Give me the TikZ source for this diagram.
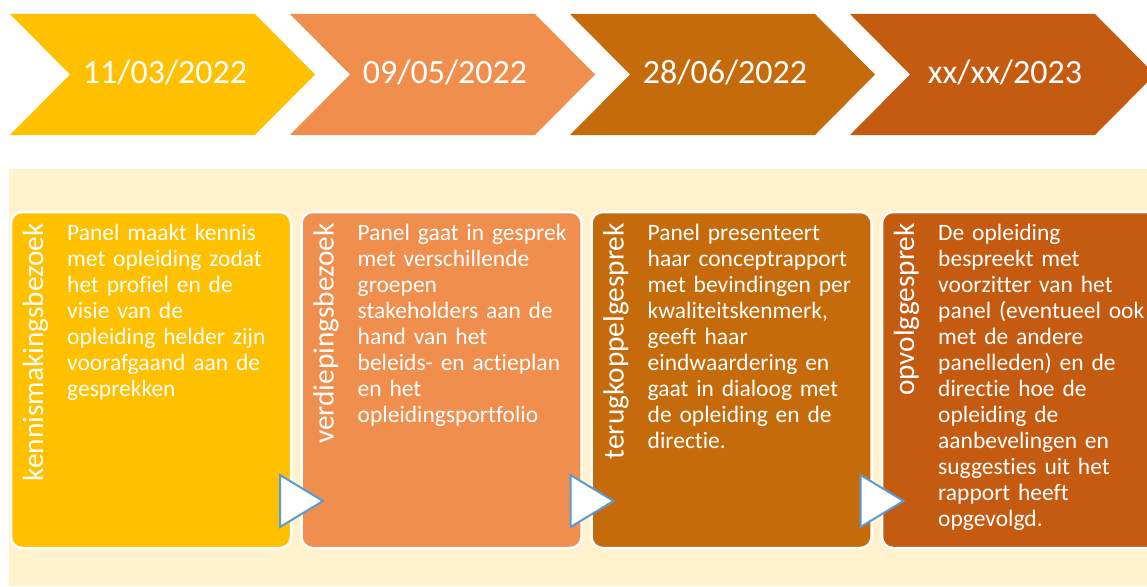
\documentclass[tikz,border=0pt]{standalone}
\usepackage{fontspec}
\setmainfont{Carlito}[Ligatures=NoCommon]
\definecolor{cgold}{HTML}{FFC000}
\definecolor{corange}{HTML}{EF8E4D}
\definecolor{cbrown}{HTML}{C56B0B}
\definecolor{cdark}{HTML}{C55A11}
\definecolor{ccream}{HTML}{FFF2CC}
\definecolor{cblue}{HTML}{5B9BD5}
\begin{document}
\begin{tikzpicture}[x=1pt,y=-1pt,
  datetext/.style={text=white,inner sep=0,anchor=base,font=\fontsize{34}{40}\selectfont},
  stagebox/.style={draw=white,line width=2.5pt,rounded corners=11pt,anchor=north west,
    minimum width=280pt,minimum height=336pt,inner sep=0,outer sep=0},
  stagelabel/.style={text=white,rotate=90,anchor=base east,inner sep=0,
    font=\fontsize{29.3}{32}\selectfont},
  bodytext/.style={text=white,anchor=base west,inner sep=0,text width=235pt,align=left,
    font=\fontsize{23.5}{26}\selectfont},
  tri/.style={draw=cblue,fill=white,line width=2pt,line join=miter}]
\clip (0,0) rectangle (1147,586);
\fill[white] (0,0) rectangle (1147,586);
% chevrons
\foreach \i/\c in {0/cgold,1/corange,2/cbrown,3/cdark}{
  \pgfmathsetmacro{\L}{10+280*\i}
  \fill[\c] (\L,14) -- (\L+245,14) -- (\L+305,74.5) -- (\L+245,135) -- (\L,135) -- (\L+60,74.5) -- cycle;
}
\node[datetext] (d1) at (165,83) {11/03/2022};
\node[datetext] (d2) at (445,83) {09/05/2022};
\node[datetext] (d3) at (725,83) {28/06/2022};
\node[datetext] (d4) at (1005,83) {xx/xx/2023};
% background panel
\fill[ccream] (9,169) rectangle (1147,586);
% boxes
\node[stagebox,fill=cgold] (b1) at (11,212) {};
\node[stagebox,fill=corange] (b2) at (301.5,212) {};
\node[stagebox,fill=cbrown] (b3) at (591.5,212) {};
\node[stagebox,fill=cdark] (b4) at (882,212) {};
% labels
\node[stagelabel] (l1) at (43,223) {kennismakingsbezoek};
\node[stagelabel] (l2) at (333.5,223) {verdiepingsbezoek};
\node[stagelabel] (l3) at (623.5,223) {terugkoppelgesprek};
\node[stagelabel] (l4) at (914,223) {opvolggesprek};
% texts
\node[bodytext] (t1) at (67,240) {Panel maakt kennis\\met opleiding zodat\\het profiel en de\\visie van de\\opleiding helder zijn\\voorafgaand aan de\\gesprekken};
\node[bodytext] (t2) at (357.5,240) {Panel gaat in gesprek\\met verschillende\\groepen\\stakeholders aan de\\hand van het\\beleids- en actieplan\\en het\\opleidingsportfolio};
\node[bodytext] (t3) at (647.5,240) {Panel presenteert\\haar conceptrapport\\met bevindingen per\\kwaliteitskenmerk,\\geeft haar\\eindwaardering en\\gaat in dialoog met\\de opleiding en de\\directie.};
\node[bodytext] (t4) at (938,240) {De opleiding\\bespreekt met\\voorzitter van het\\panel (eventueel ook\\met de andere\\panelleden) en de\\directie hoe de\\opleiding de\\aanbevelingen en\\suggesties uit het\\rapport heeft\\opgevolgd.};
% triangles
\foreach \b in {b1,b2,b3}{
  \draw[tri] ([xshift=-11pt,yshift=73pt]\b.south east) -- ([xshift=32pt,yshift=47pt]\b.south east) -- ([xshift=-11pt,yshift=21pt]\b.south east) -- cycle;
}
\end{tikzpicture}
\end{document}
